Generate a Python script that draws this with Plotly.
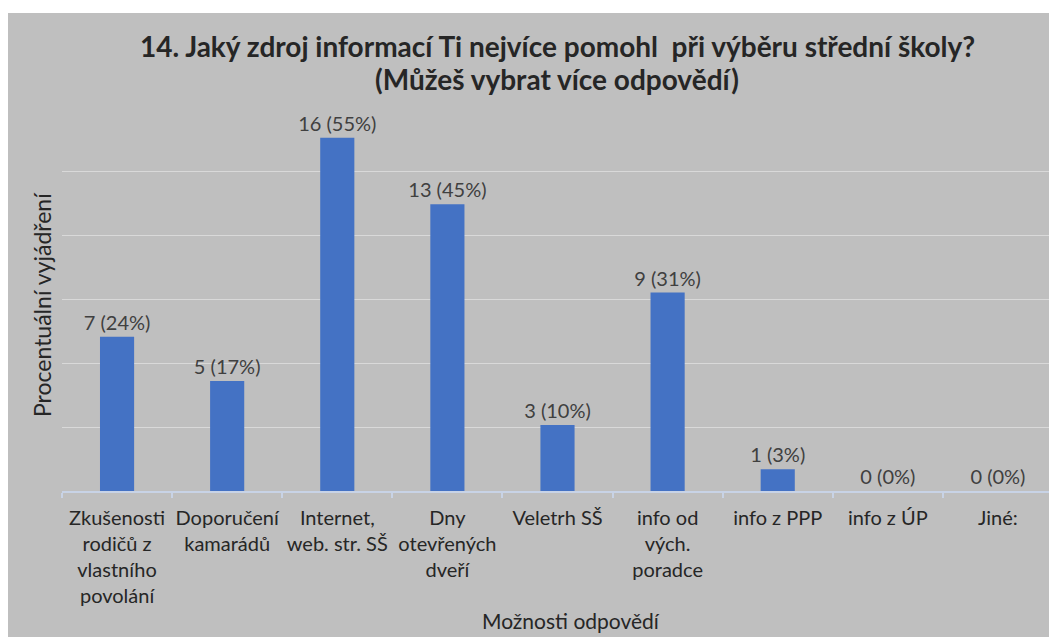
import plotly.graph_objects as go

categories = [
    "Zkušenosti<br>rodičů z<br>vlastního<br>povolání",
    "Doporučení<br>kamarádů",
    "Internet,<br>web. str. SŠ",
    "Dny<br>otevřených<br>dveří",
    "Veletrh SŠ",
    "info od<br>vých.<br>poradce",
    "info z PPP",
    "info z ÚP",
    "Jiné:",
]
counts = [7, 5, 16, 13, 3, 9, 1, 0, 0]
percent = [24.1, 17.2, 55.2, 44.8, 10.3, 31.0, 3.4, 0.0, 0.0]
percent_labels = ["24%", "17%", "55%", "45%", "10%", "31%", "3%", "0%", "0%"]

title_line1 = "<b>14. Jaký zdroj informací Ti nejvíce pomohl  při výběru střední školy?</b>"
title_line2 = "<b>(Můžeš vybrat více odpovědí)</b>"
y_title = "Procentuální vyjádření"
x_title = "Možnosti odpovědí"

FONT = "Lato"
GRAY_BG = "#BFBFBF"
OFF = 8  # page body margin

labels = [f"{c} ({p})" for c, p in zip(counts, percent_labels)]

fig = go.Figure()
fig.add_trace(go.Bar(
    x=categories,
    y=percent,
    marker=dict(color="#4472C4", line=dict(width=0)),
    text=labels,
    textposition="outside",
    constraintext="none",
    textfont=dict(family=FONT, size=20, color="#404040"),
    cliponaxis=False,
    hoverinfo="skip",
))

W, H = 1057 - OFF, 637 - OFF
ml, mr, mt, mb = 62 - OFF, 4, 107 - OFF, 146
pw = W - ml - mr
ph = H - mt - mb


def px_x(x):
    return (x - OFF - ml) / pw


def px_y(y):
    return (H - mb - (y - OFF)) / ph


fig.add_shape(
    type="rect", xref="paper", yref="paper",
    x0=px_x(7), x1=px_x(1065),
    y0=px_y(645), y1=px_y(13),
    fillcolor=GRAY_BG, line=dict(width=0), layer="below",
)

fig.add_annotation(
    text=title_line1, xref="paper", yref="paper",
    x=px_x(557), y=px_y(46), xanchor="center", yanchor="middle",
    showarrow=False, font=dict(family=FONT, size=28, color="#262626"),
)
fig.add_annotation(
    text=title_line2, xref="paper", yref="paper",
    x=px_x(557), y=px_y(79), xanchor="center", yanchor="middle",
    showarrow=False, font=dict(family=FONT, size=28, color="#262626"),
)
fig.add_annotation(
    text=y_title, xref="paper", yref="paper",
    x=px_x(42), y=px_y(305), xanchor="center", yanchor="middle",
    textangle=-90, showarrow=False, font=dict(family=FONT, size=23, color="#262626"),
)
fig.add_annotation(
    text=x_title, xref="paper", yref="paper",
    x=px_x(571), y=px_y(620), xanchor="center", yanchor="middle",
    showarrow=False, font=dict(family=FONT, size=21, color="#262626"),
)

fig.update_layout(
    width=W, height=H,
    margin=dict(l=ml, r=mr, t=mt, b=mb, pad=0),
    paper_bgcolor="white",
    plot_bgcolor=GRAY_BG,
    bargap=0.69,
    showlegend=False,
)
fig.update_xaxes(
    showline=True, linecolor="#C8D3E6", linewidth=2,
    ticks="outside", tickson="boundaries", ticklen=5, tickcolor="#C8D3E6", tickwidth=2,
    tickangle=0, ticklabelstandoff=8,
    tickfont=dict(family=FONT, size=20, color="#262626"),
    showgrid=False, zeroline=False,
)
fig.update_yaxes(
    range=[0, 60], dtick=10, showticklabels=False,
    showgrid=True, gridcolor="#D9D9D9", gridwidth=1,
    zeroline=False, showline=False, ticks="",
)

fig.write_html("out.html")
